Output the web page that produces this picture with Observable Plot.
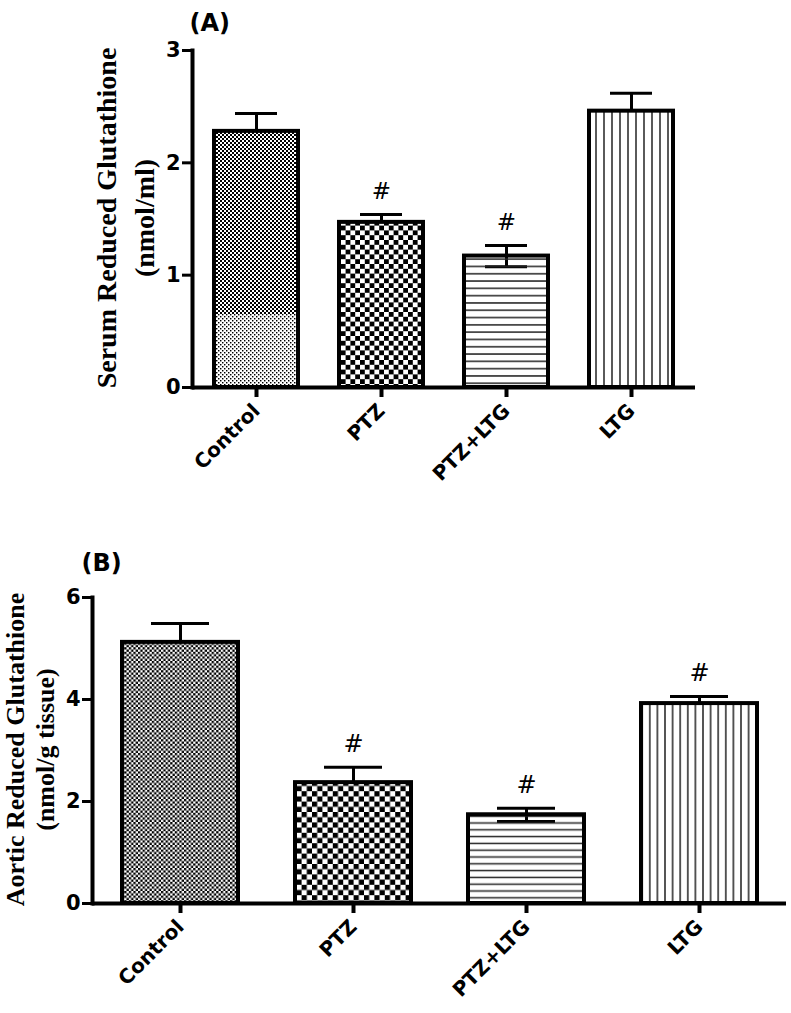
<!DOCTYPE html>
<html>
<head>
<meta charset="utf-8">
<script src="https://cdn.jsdelivr.net/npm/d3@7"></script>
<script src="https://cdn.jsdelivr.net/npm/@observablehq/plot@0.6"></script>
<style>
  html, body { margin: 0; padding: 0; background: #fff; }
  #wrap { position: relative; width: 791px; height: 1013px; background: #fff; }
  #wrap svg { position: absolute; left: 0; }
</style>
</head>
<body>
<div id="wrap"></div>
<script>
// ---- data ----
const categories = ["Control", "PTZ", "PTZ+LTG", "LTG"];
const serumMean = [2.28, 1.47, 1.17, 2.46];
const serumSem = [0.16, 0.07, 0.095, 0.16];
const serumSig = [false, true, true, false];
const serumTicks = [0, 1, 2, 3];
const serumControlShade = 0.65;

const aorticMean = [5.12, 2.37, 1.74, 3.92];
const aorticSem = [0.37, 0.30, 0.13, 0.14];
const aorticSig = [false, true, true, true];
const aorticTicks = [0, 2, 4, 6];

// ---- styles ----
const patternKey = {"Control": "ctrl", "PTZ": "ptz", "PTZ+LTG": "hlines", "LTG": "vlines"};

function rows(mean, sem, sig) {
  return categories.map((c, i) => ({cat: c, mean: mean[i], sem: sem[i], sig: sig[i]}));
}

function addPatterns(svg, prefix, cfg) {
  const defs = d3.select(svg).insert("defs", ":first-child");
  function checker(id, size, sq) {
    const p = defs.append("pattern").attr("id", prefix + id).attr("patternUnits", "userSpaceOnUse")
      .attr("width", size).attr("height", size);
    p.append("rect").attr("width", size).attr("height", size).attr("fill", "#fff");
    p.append("rect").attr("x", 0).attr("y", 0).attr("width", sq).attr("height", sq).attr("fill", "#000");
    p.append("rect").attr("x", size / 2).attr("y", size / 2).attr("width", sq).attr("height", sq).attr("fill", "#000");
  }
  checker("ctrl", cfg.ctrlSize, cfg.ctrlSq);
  checker("ctrlLight", cfg.ctrlSize, cfg.ctrlSq * 0.72);
  checker("ptz", cfg.ptzSize, cfg.ptzSize / 2);
  const h = defs.append("pattern").attr("id", prefix + "hlines").attr("patternUnits", "userSpaceOnUse")
    .attr("width", 10).attr("height", cfg.hgap);
  h.append("line").attr("x1", 0).attr("x2", 10).attr("y1", cfg.hgap / 2).attr("y2", cfg.hgap / 2)
    .attr("stroke", "#222").attr("stroke-width", 1.5);
  const v = defs.append("pattern").attr("id", prefix + "vlines").attr("patternUnits", "userSpaceOnUse")
    .attr("width", cfg.vgap).attr("height", 10);
  v.append("rect").attr("width", cfg.vgap).attr("height", 10).attr("fill", "#fff");
  v.append("line").attr("y1", 0).attr("y2", 10).attr("x1", cfg.vgap / 2).attr("x2", cfg.vgap / 2)
    .attr("stroke", "#222").attr("stroke-width", 1.5);
}

function panel(o) {
  const data = rows(o.mean, o.sem, o.sig);
  const fillOf = d => `url(#${o.prefix}${patternKey[d.cat]})`;
  const marks = [
    Plot.ruleX(data, {x: "cat", y1: d => d.mean - d.sem, y2: d => d.mean + d.sem, strokeWidth: 3}),
    Plot.tickY(data, {x: "cat", y: d => d.mean + d.sem, strokeWidth: 3, inset: o.capInset}),
    Plot.tickY(data, {x: "cat", y: d => d.mean - d.sem, strokeWidth: 3, inset: o.capInset}),
    Plot.barY(data, {x: "cat", y: "mean", fill: fillOf, stroke: "black", strokeWidth: 4})
  ];
  if (o.shade != null) {
    marks.push(Plot.barY([{cat: "Control", v: o.shade}], {x: "cat", y: "v", fill: () => `url(#${o.prefix}ctrlLight)`,
      insetLeft: 2, insetRight: 2, insetBottom: 2}));
  }
  marks.push(
    Plot.text(data.filter(d => d.sig), {x: "cat", y: d => d.mean + d.sem, text: () => "#", dy: -23,
      fontFamily: "DejaVu Sans", fontWeight: "normal", fontSize: o.hashSize, lineAnchor: "middle"}),
    Plot.ruleY([0], {strokeWidth: 4}),
    Plot.frame({anchor: "left", strokeWidth: 4}),
    Plot.axisY({ticks: o.ticks, tickFormat: d => String(d), tickSize: 10, tickPadding: 2, strokeWidth: 3, fontSize: 21, label: null}),
    Plot.axisX({tickSize: 10, tickPadding: 10, tickRotate: -45, strokeWidth: 4, fontSize: 20, label: null}),
    Plot.text([o.title], {frameAnchor: "top-left", text: d => d, dx: o.titleDx, dy: o.titleDy,
      textAnchor: "start", lineAnchor: "middle", fontSize: 24, fontFamily: "DejaVu Sans", fontWeight: "bold"}),
    Plot.text([o.label1], {frameAnchor: "left", text: d => d, rotate: -90, dx: o.label1Dx, dy: o.labelDy,
      textAnchor: "middle", lineAnchor: "middle", fontFamily: "Liberation Serif", fontWeight: "bold", fontSize: o.labelSize}),
    Plot.text([o.label2], {frameAnchor: "left", text: d => d, rotate: -90, dx: o.label2Dx, dy: o.labelDy,
      textAnchor: "middle", lineAnchor: "middle", fontFamily: "Liberation Serif", fontWeight: "bold", fontSize: o.labelSize})
  );
  const svg = Plot.plot({
    width: 791,
    height: o.height,
    marginLeft: o.ml, marginRight: o.mr, marginTop: o.mt, marginBottom: o.mb,
    x: {domain: categories, paddingInner: o.pi, paddingOuter: o.po, axis: null, label: null},
    y: {domain: o.domain, axis: null, label: null},
    color: {type: "identity"},
    style: {fontFamily: "DejaVu Sans", fontWeight: "bold", fontSize: "20px", color: "black", background: "white", overflow: "visible"},
    marks
  });
  addPatterns(svg, o.prefix, o.pat);
  svg.style.top = o.top + "px";
  return svg;
}

const wrap = document.getElementById("wrap");
wrap.appendChild(panel({
  prefix: "a-", top: 0, height: 500, ml: 192, mr: 96, mt: 50, mb: 113,
  pi: 0.324, po: 0.162, domain: [0, 3], ticks: serumTicks,
  mean: serumMean, sem: serumSem, sig: serumSig, shade: serumControlShade,
  capInset: 21, hashSize: 23,
  title: "(A)", titleDx: -3, titleDy: -27,
  label1: "Serum Reduced Glutathione", label2: "(nmol/ml)", labelSize: 28,
  label1Dx: -85, label2Dx: -47, labelDy: -1,
  pat: {ctrlSize: 4, ctrlSq: 2, ptzSize: 9.6, hgap: 7.3, vgap: 8}
}));
wrap.appendChild(panel({
  prefix: "b-", top: 500, height: 513, ml: 92, mr: 5, mt: 97, mb: 110,
  pi: 0.33, po: 0.16, domain: [0, 6], ticks: aorticTicks,
  mean: aorticMean, sem: aorticSem, sig: aorticSig, shade: null,
  capInset: 29, hashSize: 24,
  title: "(B)", titleDx: -11, titleDy: -34,
  label1: "Aortic Reduced Glutathione", label2: "(nmol/g tissue)", labelSize: 26,
  label1Dx: -77, label2Dx: -47, labelDy: -1,
  pat: {ctrlSize: 4.6, ctrlSq: 2.3, ptzSize: 10.4, hgap: 6.8, vgap: 7.6}
}));
</script>
</body>
</html>
